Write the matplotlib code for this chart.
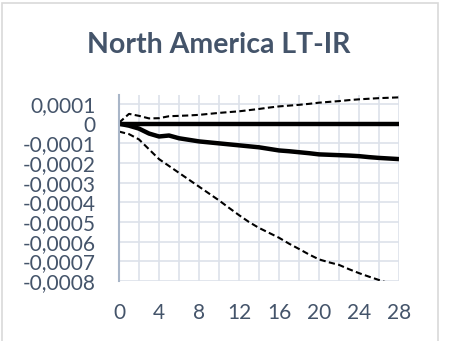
import matplotlib
matplotlib.use('Agg')
import matplotlib.pyplot as plt
from matplotlib.patches import Rectangle

# horizon (periods)
horizon = list(range(29))

# impulse response and bands
zero_line = [0.0] * 29
median = [0.0, -0.00001, -0.000025, -0.00005, -0.000065, -0.00006, -0.000074,
          -0.000082, -0.00009, -0.000095, -0.0001, -0.000105, -0.00011,
          -0.000115, -0.00012, -0.000128, -0.000136, -0.00014, -0.000145,
          -0.00015, -0.000156, -0.000158, -0.00016, -0.000162, -0.000165,
          -0.00017, -0.000174, -0.000177, -0.00018]
upper = [0.000005, 0.00005, 0.00004, 0.000027, 0.000028, 0.000038, 0.00004,
         0.000042, 0.000045, 0.00005, 0.000055, 0.000059, 0.000063, 0.000069,
         0.000075, 0.000082, 0.000088, 0.000092, 0.000096, 0.000101, 0.000107,
         0.000111, 0.000115, 0.00012, 0.000124, 0.000127, 0.00013, 0.000132,
         0.000134]
lower = [-0.00004, -0.000053, -0.00008, -0.00013, -0.00018, -0.000215,
         -0.00025, -0.000285, -0.00032, -0.000355, -0.00039, -0.000428,
         -0.000465, -0.0005, -0.00053, -0.000555, -0.00058, -0.00061,
         -0.000637, -0.000665, -0.00069, -0.000705, -0.000718, -0.00074,
         -0.00076, -0.000778, -0.000795, -0.000812, -0.00083]

x_ticks = [0, 4, 8, 12, 16, 20, 24, 28]
y_ticks = [0.0001, 0, -0.0001, -0.0002, -0.0003, -0.0004, -0.0005, -0.0006,
           -0.0007, -0.0008]

text_col = '#44546a'
grid_col = '#dde2ea'

plt.rcParams['font.family'] = ['Lato', 'DejaVu Sans']

fig = plt.figure(figsize=(4.68, 3.41), dpi=100)
# light chart-area border (bottom edge runs off the image)
fig.patches.append(Rectangle((2 / 468, -0.05), 436 / 468, 1.05 - 3 / 341,
                             transform=fig.transFigure, fill=False,
                             edgecolor='#d9d9d9', linewidth=1.2))

ax = fig.add_axes([119 / 468, 1 - 281 / 341, 280 / 468, 186 / 341])

ax.plot(horizon, zero_line, color='black', linewidth=3.2, solid_capstyle='butt')
ax.plot(horizon, median, color='black', linewidth=3.2, solid_capstyle='butt')
ax.plot(horizon, upper, color='black', linewidth=1.5, linestyle=(0, (3, 1.6)))
ax.plot(horizon, lower, color='black', linewidth=1.5, linestyle=(0, (3, 1.6)))

ax.set_xlim(0, 28)
ax.set_ylim(-0.0008, 0.000146)
ax.set_xticks(x_ticks, labels=[str(t) for t in x_ticks])
ax.set_xticks(range(0, 29, 2), minor=True)
ax.set_yticks(y_ticks, labels=[f'{t:.4f}'.replace('.', ',') if t != 0 else '0'
                               for t in y_ticks])
ax.grid(True, which='both', axis='x', color=grid_col, linewidth=1.2)
ax.grid(True, which='major', axis='y', color=grid_col, linewidth=1.2)
ax.set_axisbelow(True)

for s in ['top', 'right', 'bottom']:
    ax.spines[s].set_visible(False)
ax.spines['left'].set_color('#a9b6c8')
ax.spines['left'].set_linewidth(1.5)

ax.tick_params(axis='both', which='both', length=0, labelsize=15,
               labelcolor=text_col)
ax.tick_params(axis='y', which='major', pad=17)
ax.tick_params(axis='x', which='major', pad=16)

fig.text(219 / 468, 1 - 45 / 341, 'North America LT-IR', ha='center',
         va='center', fontsize=20.5, fontweight='bold', color=text_col)

fig.savefig('out.png', dpi=100)
